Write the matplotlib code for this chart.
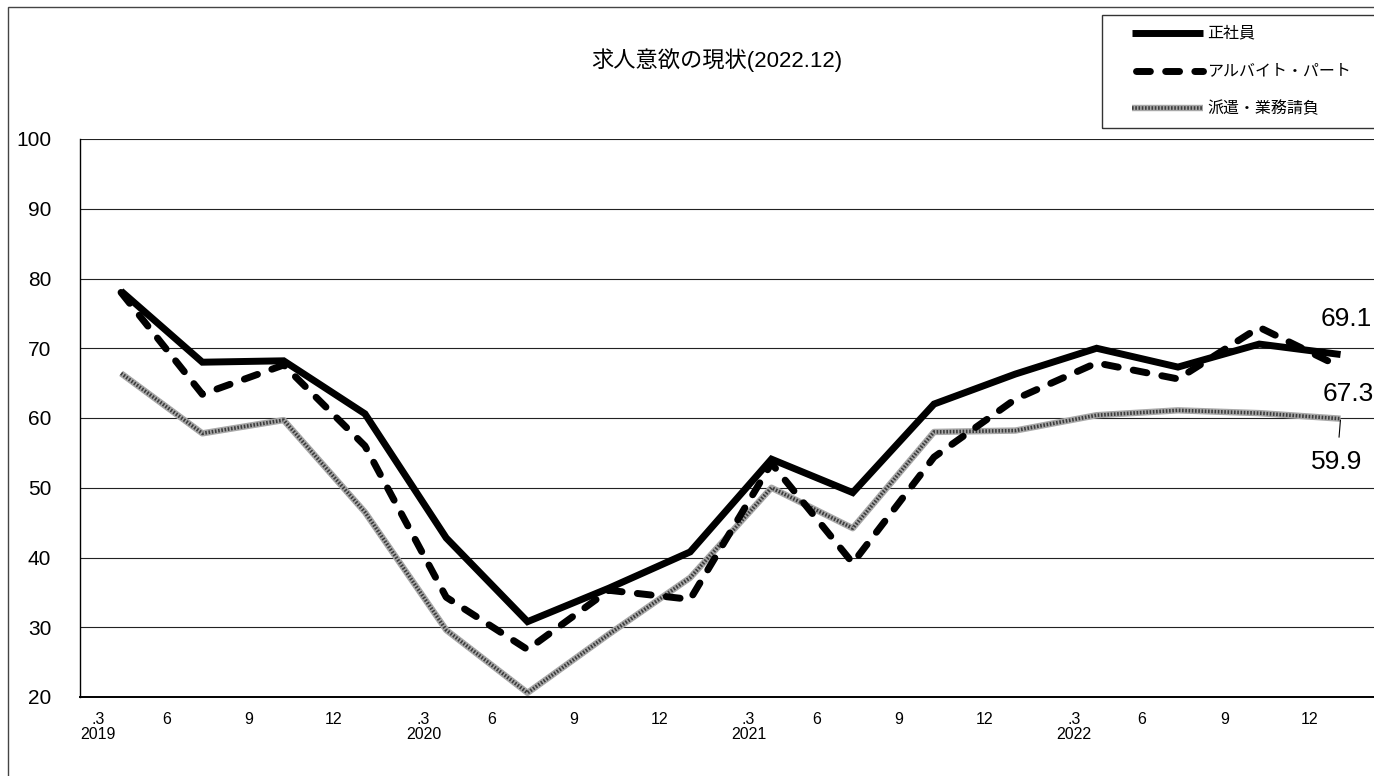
import numpy as np
import matplotlib.pyplot as plt
from matplotlib.lines import Line2D
from matplotlib.patches import Rectangle

plt.rcParams['font.family'] = ['Liberation Sans', 'Noto Sans CJK JP', 'DejaVu Sans']

# data
title = '求人意欲の現状(2022.12)'
names = ['正社員', 'アルバイト・パート', '派遣・業務請負']
seishain = [78.2, 68.0, 68.2, 60.6, 42.8, 30.8, 35.6, 40.8, 54.1, 49.3, 62.0, 66.3, 70.0, 67.3, 70.6, 69.1]
part = [78.0, 63.4, 67.6, 56.0, 34.3, 26.8, 35.3, 34.0, 53.5, 39.2, 54.4, 62.7, 67.9, 65.6, 73.0, 67.3]
haken = [66.4, 57.8, 59.7, 46.5, 29.6, 20.6, 29.0, 37.1, 50.0, 44.2, 58.0, 58.2, 60.4, 61.1, 60.7, 59.9]
years = ['2019', '2020', '2021', '2022']
months = ['.3', '6', '9', '12']
yticks = [20, 30, 40, 50, 60, 70, 80, 90, 100]

W, H = 1374, 776
fx = lambda px: px / W
fy = lambda py: 1 - py / H

# line styles
solid_kw = dict(color='black', lw=5, solid_capstyle='butt', solid_joinstyle='miter')
dash_kw = dict(color='black', lw=5, linestyle=(0, (2.0, 2.2)), dash_capstyle='round')
gray_base = dict(color='#a8a8a8', lw=4.6, solid_capstyle='butt')
gray_dots = dict(color='#3c3c3c', lw=2.6, linestyle=(0, (0.45, 0.45)))

fig = plt.figure(figsize=(W / 100, H / 100), dpi=100)
ax = fig.add_axes([fx(80.4), 79 / H, 1300.8 / W, 558 / H])

x = np.arange(len(seishain))

ax.plot(x, haken, **gray_base)
ax.plot(x, haken, **gray_dots)
ax.plot(x, part, **dash_kw)
ax.plot(x, seishain, **solid_kw)

ax.set_xlim(-0.5, len(seishain) - 0.5)
ax.set_ylim(20, 100)
ax.set_yticks(yticks)
ax.grid(axis='y', color='#222222', lw=0.8)
ax.set_axisbelow(True)
ax.tick_params(axis='y', length=0, pad=21, labelsize=15)

# month tick labels sit a little off the quarter points, as in the original
offsets = [-0.28, 0.56, 1.57, 2.62]
xpos, xlab = [], []
for k, yr in enumerate(years):
    for o, m in zip(offsets, months):
        xpos.append(4 * k + o)
        xlab.append(m + '\n' + yr if m == '.3' else m)
ax.set_xticks(xpos, xlab)
ax.tick_params(axis='x', length=0, pad=11, labelsize=11.5)
for t in ax.get_xticklabels():
    t.set_linespacing(1.0)

for s in ['top', 'right']:
    ax.spines[s].set_visible(False)
ax.spines['left'].set_linewidth(1.0)
ax.spines['bottom'].set_linewidth(1.4)

# end values
last = len(seishain) - 1
ax.annotate(f'{seishain[-1]:.1f}', (last, seishain[-1]), xytext=(5.5, 35.5),
            textcoords='offset pixels', ha='center', va='center', fontsize=19)
ax.annotate(f'{part[-1]:.1f}', (last, part[-1]), xytext=(7.5, -27),
            textcoords='offset pixels', ha='center', va='center', fontsize=19)
ax.annotate(f'{haken[-1]:.1f}', (last, haken[-1]), xytext=(-3.5, -43),
            textcoords='offset pixels', ha='center', va='center', fontsize=19,
            arrowprops=dict(arrowstyle='-', color='black', lw=0.8, shrinkA=7, shrinkB=1))

fig.text(fx(717), fy(60), title, ha='center', va='center', fontsize=16)

# chart border
fig.add_artist(Rectangle((fx(8), -0.02), 1.0, fy(7) + 0.02, transform=fig.transFigure,
                         fill=False, edgecolor='#444444', lw=1.0))

# legend box
fig.add_artist(Rectangle((fx(1102), fy(128)), 0.3, (128 - 15) / H, transform=fig.transFigure,
                         fill=False, edgecolor='#333333', lw=1.0))
rows = [33, 71, 108]
tf = fig.transFigure
fig.add_artist(Line2D([fx(1132), fx(1203)], [fy(rows[0])] * 2, transform=tf, **solid_kw))
fig.add_artist(Line2D([fx(1136), fx(1203)], [fy(rows[1])] * 2, transform=tf, **dash_kw))
fig.add_artist(Line2D([fx(1132), fx(1203)], [fy(rows[2])] * 2, transform=tf, **gray_base))
fig.add_artist(Line2D([fx(1132), fx(1203)], [fy(rows[2])] * 2, transform=tf, **gray_dots))
for r, nm in zip(rows, names):
    fig.text(fx(1207), fy(r), nm, ha='left', va='center', fontsize=11.5)

fig.savefig('out.png', dpi=100)
